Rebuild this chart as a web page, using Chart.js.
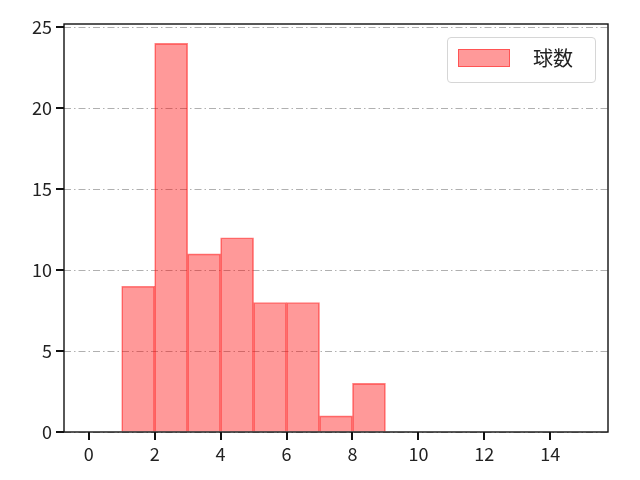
<!DOCTYPE html>
<html>
<head>
<meta charset="utf-8">
<script src="https://cdn.jsdelivr.net/npm/chart.js@4.4.0/dist/chart.umd.min.js"></script>
<style>
  body { margin: 0; background: #fff; }
  #wrap { position: relative; width: 640px; height: 480px; }
  #legend {
    position: absolute; left: 447px; top: 37px; width: 147px; height: 44px;
    border: 1px solid #d6d6d6; border-radius: 4px; background: rgba(255,255,255,0.8);
    font-family: "Noto Sans CJK JP", sans-serif; font-size: 20px; color: #222;
  }
  #legend .patch {
    position: absolute; left: 10px; top: 11px; width: 52px; height: 18px;
    background: rgba(255,0,0,0.4); border: 1px solid rgba(255,0,0,0.45); box-sizing: border-box;
  }
  #legend .label { position: absolute; left: 85px; top: 5px; }
</style>
</head>
<body>
<div id="wrap">
  <canvas id="histChart" width="640" height="480"></canvas>
  <div id="legend"><div class="patch"></div><div class="label">球数</div></div>
</div>
<script>
// histogram bins (left edges) and counts
const binEdges = [1, 2, 3, 4, 5, 6, 7, 8];
const counts = [9, 24, 11, 12, 8, 8, 1, 3];
const xTicks = [0, 2, 4, 6, 8, 10, 12, 14];
const yTicks = [0, 5, 10, 15, 20, 25];
const seriesName = '球数';

const FONT = { family: '"Noto Sans CJK JP", "DejaVu Sans", sans-serif', size: 18 };
const TICK_LEN = 8;

// frame round the plot area plus outward tick marks, like matplotlib's spines
const framePlugin = {
  id: 'frame',
  afterDraw(chart) {
    const { ctx, chartArea: a, scales } = chart;
    ctx.save();
    ctx.setLineDash([]);
    ctx.globalAlpha = 1;
    ctx.strokeStyle = '#111';
    ctx.lineWidth = 1.4;
    ctx.strokeRect(a.left, a.top, a.right - a.left, a.bottom - a.top);
    ctx.lineWidth = 2;
    ctx.beginPath();
    xTicks.forEach(v => {
      const px = Math.round(scales.x.getPixelForValue(v));
      ctx.moveTo(px, a.bottom);
      ctx.lineTo(px, a.bottom + TICK_LEN);
    });
    yTicks.forEach(v => {
      const py = Math.round(scales.y.getPixelForValue(v));
      ctx.moveTo(a.left, py);
      ctx.lineTo(a.left - TICK_LEN, py);
    });
    ctx.stroke();
    ctx.restore();
  }
};

new Chart(document.getElementById('histChart'), {
  type: 'bar',
  data: {
    datasets: [{
      label: seriesName,
      data: binEdges.map((b, i) => ({ x: b + 0.5, y: counts[i] })),
      backgroundColor: 'rgba(255,0,0,0.4)',
      borderColor: 'rgba(255,0,0,0.5)',
      borderWidth: 1,
      barPercentage: 1.0,
      categoryPercentage: 1.0
    }]
  },
  options: {
    responsive: false,
    animation: false,
    devicePixelRatio: 1,
    layout: { padding: { left: 0, right: 32, top: 24, bottom: 0 } },
    plugins: { legend: { display: false }, tooltip: { enabled: false } },
    scales: {
      x: {
        type: 'linear',
        min: -0.75,
        max: 15.75,
        offset: false,
        afterBuildTicks: s => { s.ticks = xTicks.map(v => ({ value: v })); },
        afterFit: s => { s.height = 48; },
        grid: { offset: false, drawOnChartArea: false, tickLength: 7, tickColor: 'rgba(0,0,0,0)' },
        border: { display: false },
        ticks: { font: FONT, color: '#222', padding: 4, maxRotation: 0 }
      },
      y: {
        min: 0,
        max: 25.2,
        afterBuildTicks: s => { s.ticks = yTicks.map(v => ({ value: v })); },
        afterFit: s => { s.width = 64; },
        grid: { color: '#b0b0b0', lineWidth: 1, tickLength: 7, tickColor: 'rgba(0,0,0,0)' },
        border: { display: false, dash: [7, 3, 1.5, 3] },
        ticks: { font: FONT, color: '#222', padding: 5 }
      }
    }
  },
  plugins: [framePlugin]
});
</script>
</body>
</html>
